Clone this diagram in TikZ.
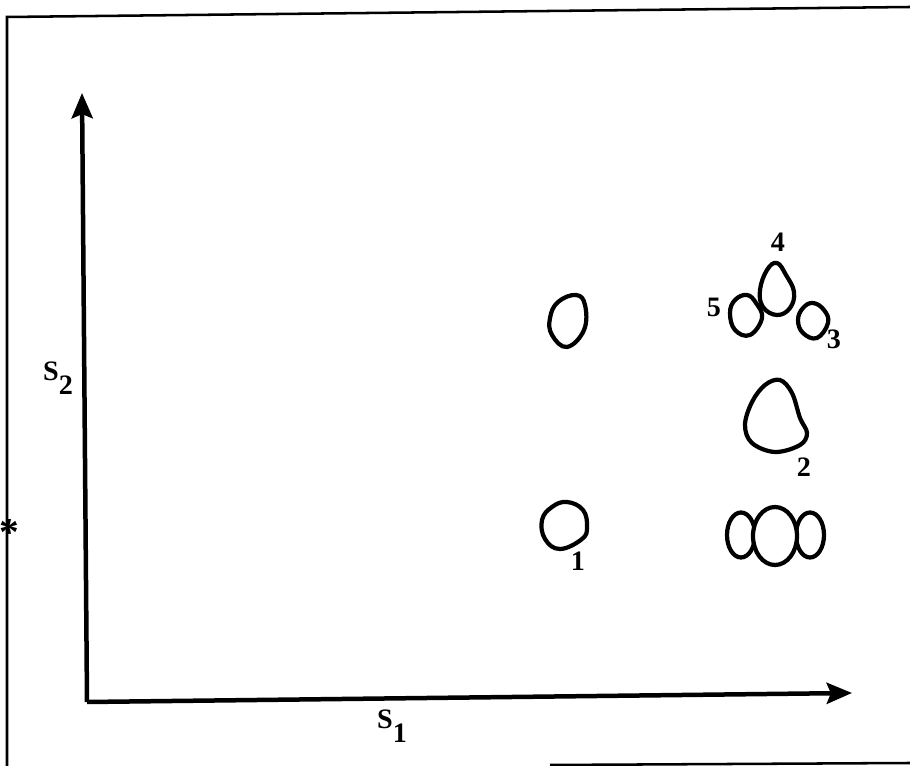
\documentclass[tikz,border=0pt]{standalone}
\usepackage{amsmath,amssymb}
\usepackage{xcolor}
\usepackage{fontspec}
\setmainfont{Liberation Serif}
\usetikzlibrary{arrows.meta}

\begin{document}
\begin{tikzpicture}[x=.025cm,y=-.025cm,font=\fontsize{20}{24}\selectfont\bfseries,
    blob/.style={line width=3pt,line join=round},
    axis/.style={line width=3.2pt,-{Stealth[length=18pt,width=15pt,inset=3pt]}},
    frame/.style={line width=1.8pt}]
    \useasboundingbox (0,0) rectangle (910,766);
    % frame of the scan
    \draw[frame] (910,7) -- (7,17) -- (7,766);
    \draw[frame] (550,765) -- (910,763);
    \node[inner sep=0pt,font=\fontsize{28}{30}\selectfont\bfseries] (star) at (9,533) {*};
    % axes
    \coordinate (O) at (87,702);
    \coordinate (ytip) at (82,93);
    \coordinate (xtip) at (852,693);
    \draw[axis] (O) -- (ytip);
    \draw[axis] (O) -- (xtip);
    \node (s2) at (58,378) {S\raisebox{-1.1ex}{2}};
    \node (s1) at (392,726) {S\raisebox{-1.1ex}{1}};
    % blobs
    \draw[blob] plot[smooth cycle,tension=.7] coordinates {(576,295) (585,305) (584,330) (567,347) (552,335) (550,318) (558,302)};
    \draw[blob] plot[smooth cycle,tension=.7] coordinates {(567,502) (583,510) (587,527) (582,539) (560,549) (545,539) (542,520) (552,507)};
    \draw[blob] plot[smooth cycle,tension=.6] coordinates {(780,380) (792,393) (800,418) (807,433) (800,445) (775,452) (752,443) (745,425) (752,402) (765,385)};
    \draw[blob] plot[smooth cycle,tension=.7] coordinates {(777,263) (786,275) (794,292) (790,308) (777,315) (763,307) (760,290) (767,270)};
    \draw[blob] plot[smooth cycle,tension=.7] coordinates {(747,295) (756,303) (762,318) (750,335) (735,330) (730,313) (735,300)};
    \draw[blob] plot[smooth cycle,tension=.7] coordinates {(813,303) (824,310) (828,323) (817,338) (803,333) (798,320) (803,308)};
    \foreach \cx in {741,810}{
      \draw[blob] (\cx,535) ellipse [x radius=14,y radius=22.5];
    }
    \draw[blob,fill=white] (775,536) ellipse [x radius=22,y radius=29];
    % labels
    \node (l1) at (578,561) {1};
    \node (l2) at (804,467) {2};
    \node (l3) at (834,339) {3};
    \node (l4) at (778,242) {4};
    \node (l5) at (714,307) {5};
\end{tikzpicture}
\end{document}
